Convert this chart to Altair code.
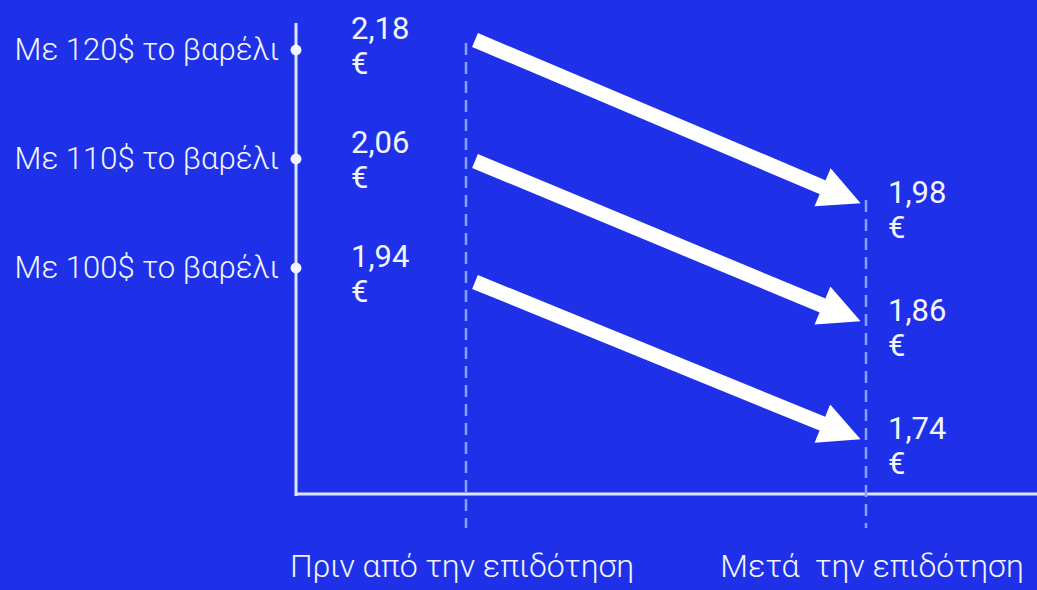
import math
import altair as alt
import pandas as pd

# ---- data ----
scenarios = ["Με 120$ το βαρέλι", "Με 110$ το βαρέλι", "Με 100$ το βαρέλι"]
price_before = [2.18, 2.06, 1.94]
price_after = [1.98, 1.86, 1.74]
stage_labels = ["Πριν από την επιδότηση", "Μετά\u00a0 την επιδότηση"]

# ---- layout (pixel-like coordinate system of the canvas) ----
W, H = 1037, 590
BG = "#1f31e8"
FG = "#f2f5ff"
AXIS_COLOR = "#dce4ff"
DASH_COLOR = "#86a0ff"
FONT = "Roboto"

AXIS_X, AXIS_TOP, AXIS_Y = 296, 23, 494
STAGE_X = [466, 866]
DASH_BOTTOM = 528
LABEL_Y = 577


def fmt(p):
    return f"{p:.2f}".replace(".", ",") + "\n€"


n = len(scenarios)
rows = []
for r in range(n):
    sx, sy = STAGE_X[0] + 9, 40 + 121 * r
    tx, ty = STAGE_X[1] - 6, 203 + 118 * r
    dx, dy = tx - sx, ty - sy
    L = math.hypot(dx, dy)
    ux, uy = dx / L, dy / L
    rows.append(dict(
        scenario=scenarios[r],
        dot_y=50 + 109 * r,
        lab_y=60 + 109 * r,
        before=fmt(price_before[r]),
        after=fmt(price_after[r]),
        before_y=39 + 114 * r,
        after_y=ty,
        sx=sx, sy=sy,
        ex=tx - 30 * ux, ey=ty - 30 * uy,
        hx=tx - 20 * ux, hy=ty - 20 * uy,
        ang=math.degrees(math.atan2(dy, dx)),
    ))
df = pd.DataFrame(rows)
df["axis_x"] = AXIS_X
df["lab_x"] = AXIS_X - 17
df["bx"] = 351
df["ax"] = 888

axes_df = pd.DataFrame({
    "x": [AXIS_X, AXIS_X], "y": [AXIS_TOP, AXIS_Y],
    "x2": [AXIS_X, W], "y2": [AXIS_Y + 2, AXIS_Y],
})
dash_df = pd.DataFrame({
    "x": STAGE_X, "y": [df["sy"].iloc[0] + 3, df["after_y"].iloc[0] - 3],
    "x2": STAGE_X, "y2": [DASH_BOTTOM, DASH_BOTTOM],
})
stage_df = pd.DataFrame({"label": stage_labels, "x": [STAGE_X[0] - 4, STAGE_X[1] + 6],
                         "y": [LABEL_Y, LABEL_Y]})

xs = alt.Scale(domain=[0, W], nice=False, zero=False)
ys = alt.Scale(domain=[0, H], nice=False, zero=False, reverse=True)


def X(f):
    return alt.X(f"{f}:Q", scale=xs, axis=None)


def Y(f):
    return alt.Y(f"{f}:Q", scale=ys, axis=None)


axes = alt.Chart(axes_df).mark_rule(color=AXIS_COLOR, strokeWidth=3).encode(
    x=X("x"), y=Y("y"), x2="x2:Q", y2="y2:Q")

dashes = alt.Chart(dash_df).mark_rule(color=DASH_COLOR, strokeWidth=2.5, strokeDash=[12, 7]).encode(
    x=X("x"), y=Y("y"), x2="x2:Q", y2="y2:Q")

dots = alt.Chart(df).mark_circle(color=FG, size=120, opacity=1).encode(
    x=X("axis_x"), y=Y("dot_y"))

left_labels = alt.Chart(df).mark_text(
    align="right", baseline="alphabetic", font=FONT, fontWeight=300, fontSize=31, color=FG
).encode(x=X("lab_x"), y=Y("lab_y"), text="scenario:N")

before_txt = alt.Chart(df).mark_text(
    align="left", baseline="alphabetic", font=FONT, fontSize=31, color=FG,
    lineBreak="\n", lineHeight=35
).encode(x=X("bx"), y=Y("before_y"), text="before:N")

after_txt = alt.Chart(df).mark_text(
    align="left", baseline="alphabetic", font=FONT, fontSize=31, color=FG,
    lineBreak="\n", lineHeight=35
).encode(x=X("ax"), y=Y("after_y"), text="after:N")

shafts = alt.Chart(df).mark_rule(color="white", strokeWidth=15, strokeCap="butt").encode(
    x=X("sx"), y=Y("sy"), x2="ex:Q", y2="ey:Q")

heads = alt.Chart(df).mark_point(
    shape="M1,0L-1,-1L-1,1Z", filled=True, color="white", opacity=1, size=1700, strokeWidth=0
).encode(x=X("hx"), y=Y("hy"), angle=alt.Angle("ang:Q", scale=None))

stage_txt = alt.Chart(stage_df).mark_text(
    align="center", baseline="alphabetic", font=FONT, fontWeight=300, fontSize=32, color=FG
).encode(x=X("x"), y=Y("y"), text="label:N")

chart = alt.layer(
    axes, dashes, dots, left_labels, before_txt, after_txt, shafts, heads, stage_txt
).properties(
    width=W, height=H, padding=0,
    autosize=alt.AutoSizeParams(type="none"),
    background=BG,
).configure_view(stroke=None)

chart.save("out.html", embed_options={"renderer": "svg", "actions": False})
